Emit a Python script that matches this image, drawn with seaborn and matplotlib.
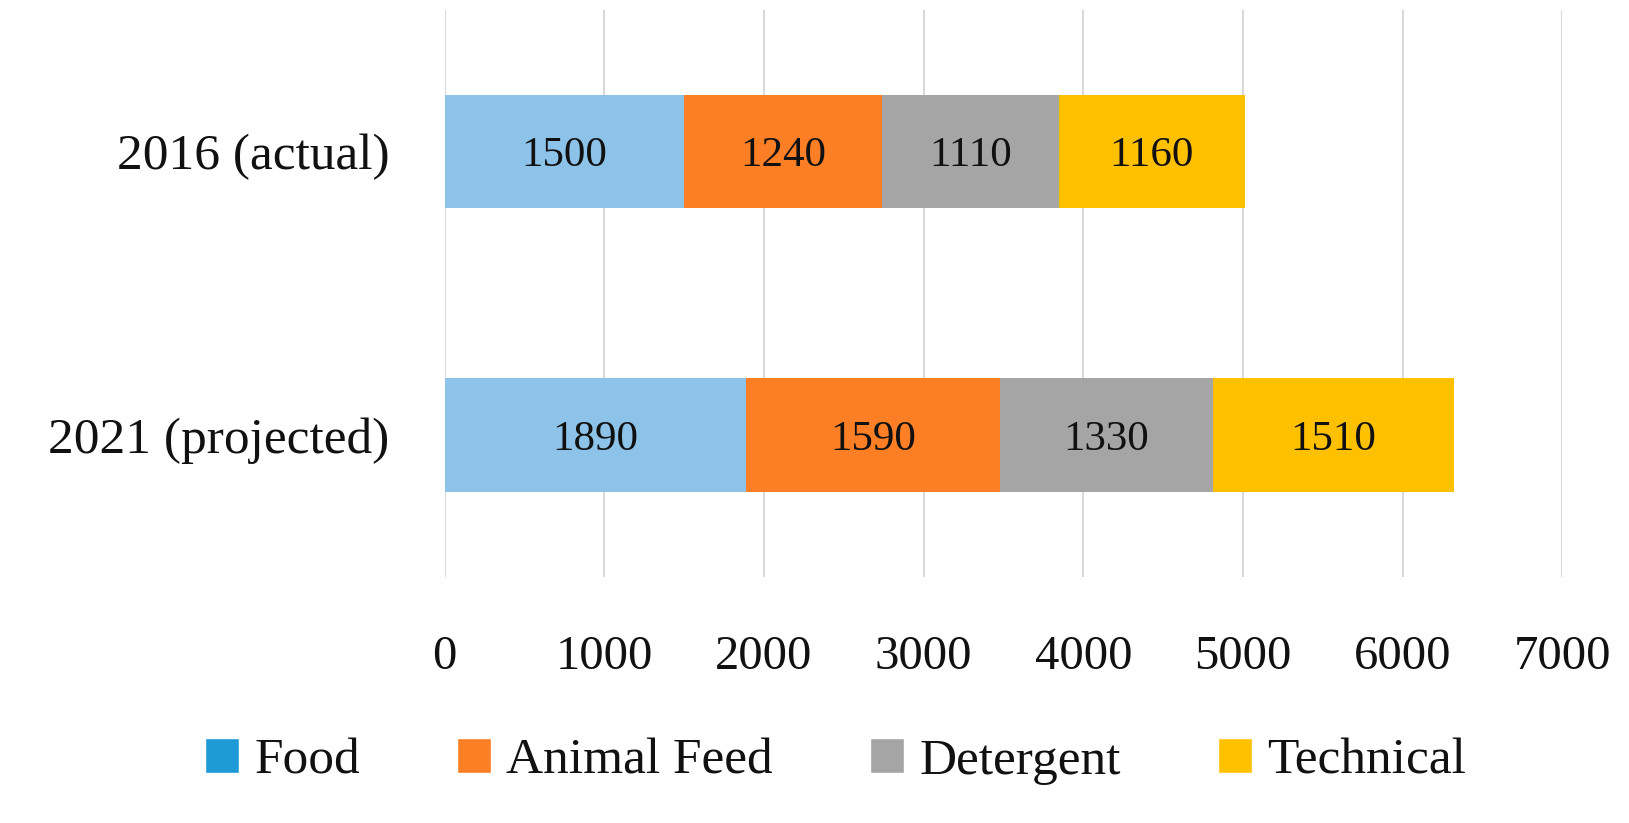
import numpy as np
import pandas as pd
import matplotlib
matplotlib.use("Agg")
import matplotlib.pyplot as plt
import seaborn as sns
from matplotlib.patches import Patch

years = ["2016 (actual)", "2021 (projected)"]
series = ["Food", "Animal Feed", "Detergent", "Technical"]
food = [1500, 1890]
animal_feed = [1240, 1590]
detergent = [1110, 1330]
technical = [1160, 1510]

bar_colors = ["#8DC3E9", "#FD7F25", "#A5A5A5", "#FFC000"]
legend_colors = ["#1E9BD7", "#FD7F25", "#A5A5A5", "#FFC000"]

sns.set_style("white")
plt.rcParams["font.family"] = ["Liberation Serif", "DejaVu Serif"]

df = pd.DataFrame({"year": years, "Food": food, "Animal Feed": animal_feed,
                   "Detergent": detergent, "Technical": technical})
cum = df[series].cumsum(axis=1)

fig = plt.figure(figsize=(16.29, 8.23), dpi=100)
ax = fig.add_axes([0.273, 0.299, 0.686, 0.689])

# draw cumulative totals from the biggest down so each layer shows its segment
for i in range(len(series) - 1, -1, -1):
    sns.barplot(x=cum[series[i]], y=df["year"], orient="h", color=bar_colors[i],
                width=0.4, saturation=1, linewidth=0, ax=ax, zorder=2)

for i, s in enumerate(series):
    left = cum[s] - df[s]
    for j in range(len(years)):
        ax.text(left[j] + df[s][j] / 2, j, str(df[s][j]), ha="center",
                va="center_baseline", fontsize=31, color="#111111", zorder=3)

ax.set_xlim(0, 7000)
ax.set_ylim(1.5, -0.5)
ax.set_xticks(np.arange(0, 7001, 1000))
ax.grid(axis="x", color="#D9D9D9", linewidth=1.5, zorder=0)
ax.set_axisbelow(True)
for sp in ax.spines.values():
    sp.set_visible(False)
ax.tick_params(axis="x", length=0, pad=42, labelsize=35, labelcolor="#111111")
ax.tick_params(axis="y", length=0, pad=40, labelsize=37, labelcolor="#111111")
ax.set_xlabel("")
ax.set_ylabel("")

handles = [Patch(facecolor=c, label=s) for c, s in zip(legend_colors, series)]
fig.legend(handles=handles, loc="center", bbox_to_anchor=(0.513, 0.075), ncol=4,
           frameon=False, fontsize=37, handlelength=0.65, handleheight=0.65,
           handletextpad=0.3, columnspacing=1.9, labelcolor="#111111")

fig.savefig("out.png", dpi=100)
